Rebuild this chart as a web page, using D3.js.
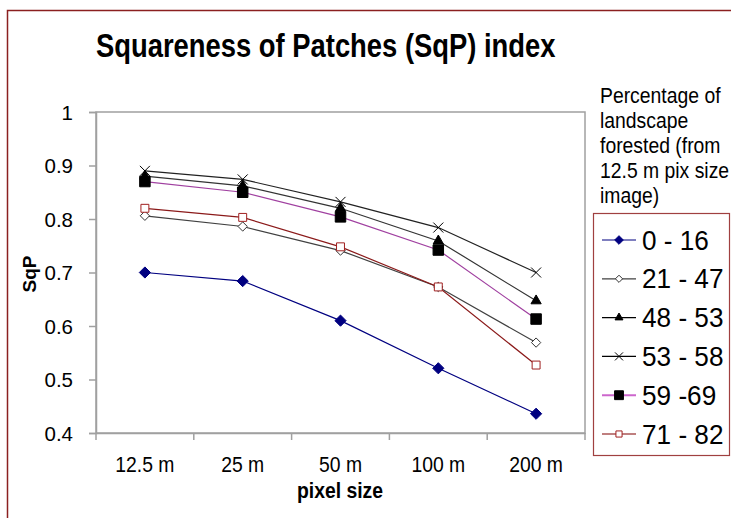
<!DOCTYPE html>
<html>
<head>
<meta charset="utf-8">
<script src="https://cdn.jsdelivr.net/npm/d3@7"></script>
<style>
  body { margin: 0; background: #fff; }
  text { font-family: "Liberation Sans", Arial, sans-serif; }
</style>
</head>
<body>
<div id="chart"></div>
<script>
// pixel sizes along the x axis
var categories = ['12.5 m', '25 m', '50 m', '100 m', '200 m'];
var yTicks = [0.4, 0.5, 0.6, 0.7, 0.8, 0.9, 1];

var seriesNames = ['0 - 16', '21 - 47', '48 - 53', '53 - 58', '59 -69', '71 - 82'];
var s0_16  = [0.700, 0.684, 0.610, 0.521, 0.436];
var s21_47 = [0.806, 0.786, 0.741, 0.673, 0.569];
var s48_53 = [0.880, 0.862, 0.820, 0.759, 0.647];
var s53_58 = [0.890, 0.874, 0.832, 0.784, 0.700];
var s59_69 = [0.870, 0.850, 0.804, 0.742, 0.613];
var s71_82 = [0.820, 0.803, 0.748, 0.673, 0.527];

var legendTitle = ['Percentage of', 'landscape', 'forested (from', '12.5 m pix size', 'image)'];

drawChart();

function drawChart() {
    var width = 731, height = 518,
        left = 96, right = 585, top = 112, bottom = 433;

    var series = [
        { name: seriesNames[0], values: s0_16,  line: '#000080', legendLine: '#000080', marker: 'diamond', fill: '#000080', stroke: '#000080', size: 80 },
        { name: seriesNames[1], values: s21_47, line: '#404040', legendLine: '#404040', marker: 'diamond', fill: '#fff', stroke: '#333', size: 55 },
        { name: seriesNames[2], values: s48_53, line: '#333', legendLine: '#000', marker: 'triangle', fill: '#000', stroke: '#000', size: 75 },
        { name: seriesNames[3], values: s53_58, line: '#222', legendLine: '#000', marker: 'cross', fill: 'none', stroke: '#000', size: 5 },
        { name: seriesNames[4], values: s59_69, line: '#a040a0', legendLine: '#cc66cc', marker: 'square', fill: '#000', stroke: '#000', size: 140 },
        { name: seriesNames[5], values: s71_82, line: '#8b1a1a', legendLine: '#800000', marker: 'square', fill: '#fff', stroke: '#a02020', size: 80 }
    ];

    var svg = d3.select('#chart').append('svg')
        .attr('width', width)
        .attr('height', height);

    // condensed text helper (the original render is narrow)
    function label(g, x, y, str, size, sx, opts) {
        opts = opts || {};
        return g.append('text')
            .attr('transform', 'translate(' + x + ',' + y + ') scale(' + sx + ',1)')
            .attr('font-size', size)
            .attr('font-weight', opts.bold ? 'bold' : null)
            .attr('text-anchor', opts.anchor || 'start')
            .attr('fill', '#000')
            .text(str);
    }

    // outer frame (runs off the right and bottom edges)
    svg.append('rect')
        .attr('x', 7.5).attr('y', 10.5)
        .attr('width', 740).attr('height', 530)
        .attr('fill', 'none')
        .attr('stroke', '#8b2020')
        .attr('stroke-width', 1.5);

    var x = d3.scaleBand().domain(categories).range([left, right]).padding(0);
    var y = d3.scaleLinear().domain([0.4, 1]).range([bottom, top]);

    // plot area border
    svg.append('rect')
        .attr('x', left).attr('y', top)
        .attr('width', right - left).attr('height', bottom - top)
        .attr('fill', 'none')
        .attr('stroke', '#a0a0a0')
        .attr('stroke-width', 1.5);

    // y axis
    var yAxis = svg.append('g')
        .attr('transform', 'translate(' + left + ',0)')
        .call(d3.axisLeft(y).tickValues(yTicks).tickSize(7).tickPadding(16)
            .tickFormat(function(d) { return d === 1 ? '1' : d.toFixed(1); }));
    yAxis.select('.domain').attr('stroke', '#a0a0a0').attr('stroke-width', 1.5);
    yAxis.selectAll('.tick line').attr('stroke', '#a0a0a0').attr('stroke-width', 1.5);
    yAxis.selectAll('.tick text')
        .attr('font-size', 20.5).attr('fill', '#000')
        .attr('dy', '0.36em')
        .style('font-family', '"Liberation Sans", Arial, sans-serif');

    // x axis: labels at band centres, ticks at band edges
    var xAxis = svg.append('g')
        .attr('transform', 'translate(0,' + bottom + ')')
        .call(d3.axisBottom(x).tickSize(0));
    xAxis.select('.domain').attr('stroke', '#a0a0a0').attr('stroke-width', 1.5);
    xAxis.selectAll('.tick text')
        .attr('font-size', 22).attr('fill', '#000')
        .attr('y', 39).attr('dy', 0)
        .attr('transform', 'scale(0.88,1)')
        .style('font-family', '"Liberation Sans", Arial, sans-serif');

    svg.append('g').selectAll('line')
        .data(d3.range(categories.length + 1))
        .enter().append('line')
        .attr('x1', function(i) { return left + i * x.step(); })
        .attr('x2', function(i) { return left + i * x.step(); })
        .attr('y1', bottom)
        .attr('y2', bottom + 7)
        .attr('stroke', '#a0a0a0')
        .attr('stroke-width', 1.5);

    // titles
    label(svg, 96, 57, 'Squareness of Patches (SqP) index', 33, 0.83, { bold: true });

    svg.append('text')
        .attr('transform', 'translate(36,274) rotate(-90)')
        .attr('text-anchor', 'middle')
        .attr('font-size', 19).attr('font-weight', 'bold')
        .text('SqP');

    label(svg, 340, 498, 'pixel size', 22, 0.88, { bold: true, anchor: 'middle' });

    var cx = function(d, i) { return x(categories[i]) + x.bandwidth() / 2; };

    var line = d3.line()
        .x(function(d, i) { return x(categories[i]) + x.bandwidth() / 2; })
        .y(function(d) { return y(d); });

    function drawMarker(g, s, px, py) {
        if (s.marker === 'cross') {
            var r = s.size;
            g.append('path')
                .attr('d', 'M' + (px - r) + ',' + (py - r) + 'L' + (px + r) + ',' + (py + r) +
                           'M' + (px - r) + ',' + (py + r) + 'L' + (px + r) + ',' + (py - r))
                .attr('stroke', s.stroke).attr('stroke-width', 1).attr('fill', 'none');
            return;
        }
        var type = s.marker === 'diamond' ? d3.symbolDiamond2
                 : s.marker === 'triangle' ? d3.symbolTriangle2
                 : d3.symbolSquare2;
        g.append('path')
            .attr('transform', 'translate(' + px + ',' + py + ')')
            .attr('d', d3.symbol().type(type).size(s.size)())
            .attr('fill', s.fill)
            .attr('stroke', s.stroke)
            .attr('stroke-width', 1);
    }

    // lines
    var lines = svg.append('g');
    series.forEach(function(s) {
        lines.append('path')
            .datum(s.values)
            .attr('d', line)
            .attr('fill', 'none')
            .attr('stroke', s.line)
            .attr('stroke-width', 1.2);
    });

    // markers
    var marks = svg.append('g');
    [0, 1, 5, 4, 3, 2].forEach(function(k) {
        var s = series[k];
        s.values.forEach(function(v, i) {
            drawMarker(marks, s, cx(v, i), y(v));
        });
    });

    // legend title
    var lt = svg.append('g');
    legendTitle.forEach(function(t, i) {
        label(lt, 600, 103 + i * 25, t, 22, 0.88);
    });

    // legend box
    var lg = svg.append('g');
    lg.append('rect')
        .attr('x', 593.5).attr('y', 213.5)
        .attr('width', 136).attr('height', 242)
        .attr('fill', '#fff')
        .attr('stroke', '#a04040')
        .attr('stroke-width', 1.2);

    var legendScale = d3.scalePoint().domain(seriesNames).range([240, 434]);
    series.forEach(function(s) {
        var ly = legendScale(s.name);
        lg.append('line')
            .attr('x1', 602).attr('x2', 636)
            .attr('y1', ly).attr('y2', ly)
            .attr('stroke', s.legendLine)
            .attr('stroke-width', s.marker === 'square' && s.fill === '#000' ? 2 : 1.2);
        var ms = Object.assign({}, s);
        if (s.marker === 'cross') ms.size = 4;
        else if (s.marker === 'square' && s.fill === '#000') ms.size = 100;
        else ms.size = s.size * 0.6;
        drawMarker(lg, ms, 619, ly);
        label(lg, 642, ly + 9.5, s.name, 27, 0.97);
    });
}
</script>
</body>
</html>
